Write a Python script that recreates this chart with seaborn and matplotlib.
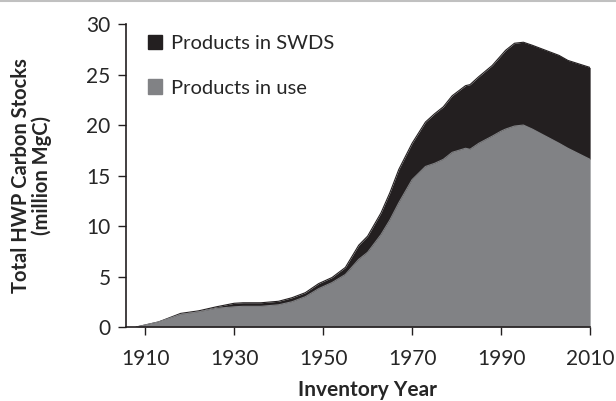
import matplotlib
matplotlib.use("Agg")
import matplotlib.pyplot as plt
import seaborn as sns
import numpy as np
import pandas as pd
from matplotlib.patches import Patch
from matplotlib.lines import Line2D

years = [1908, 1913, 1918, 1922, 1926, 1930, 1932, 1936, 1940, 1943, 1946, 1949, 1952,
         1955, 1958, 1960, 1963, 1965, 1967, 1970, 1973, 1975, 1977, 1979, 1982, 1983,
         1985, 1988, 1990, 1991, 1993, 1995, 1997, 2000, 2003, 2005, 2010]
in_use = [0, 0.5, 1.25, 1.5, 1.85, 2.0, 2.05, 2.05, 2.2, 2.5, 3.0, 3.8, 4.4,
          5.2, 6.7, 7.4, 9.15, 10.6, 12.3, 14.6, 15.9, 16.2, 16.6, 17.3, 17.7, 17.6,
          18.2, 18.9, 19.4, 19.6, 19.9, 20.0, 19.6, 18.9, 18.2, 17.7, 16.6]
swds = [0, 0, 0.1, 0.1, 0.15, 0.35, 0.35, 0.35, 0.35, 0.4, 0.4, 0.5, 0.5,
        0.7, 1.4, 1.6, 2.15, 2.7, 3.3, 3.6, 4.4, 4.9, 5.2, 5.6, 6.2, 6.4,
        6.6, 7.0, 7.5, 7.8, 8.2, 8.2, 8.3, 8.5, 8.7, 8.7, 9.1]
labels = ["Products in SWDS", "Products in use"]
xticks = [1910, 1930, 1950, 1970, 1990, 2010]
yticks = [0, 5, 10, 15, 20, 25, 30]

sns.set_style("ticks")
plt.rcParams['font.family'] = ['Lato', 'DejaVu Sans']

df = pd.DataFrame({"year": years, "in_use": in_use, "swds": swds})
df["total"] = df["in_use"] + df["swds"]

gray = "#818285"
black = "#231f20"

fig = plt.figure(figsize=(6.16, 4.01), dpi=100)
ax = fig.add_axes([0.2045, 0.1845, 0.7535, 0.7555])

ax.fill_between(df["year"], 0, df["in_use"], color=gray, lw=0)
ax.fill_between(df["year"], df["in_use"], df["total"], color=black, lw=0)
sns.lineplot(data=df, x="year", y="total", ax=ax, color=black, lw=0.8)
sns.lineplot(data=df, x="year", y="in_use", ax=ax, color=gray, lw=0.8)

ax.set_xlim(1905.7, 2010)
ax.set_ylim(0, 30)
ax.set_xticks(xticks)
ax.set_yticks(yticks)
ax.tick_params(axis='both', labelsize=15, length=6, width=1, color="#231f20")
ax.tick_params(axis='x', pad=10)
ax.tick_params(axis='y', pad=5)
for s in ["top", "right"]:
    ax.spines[s].set_visible(False)
for s in ["left", "bottom"]:
    ax.spines[s].set_color("#231f20")
    ax.spines[s].set_linewidth(1.2)

ax.set_xlabel("Inventory Year", fontsize=15, fontweight="bold")
ax.xaxis.set_label_coords((367 - 126) / 464, (327 - 380) / 303)
ax.set_ylabel("Total HWP Carbon Stocks\n(million MgC)", fontsize=14.5, fontweight="bold",
              linespacing=1.05)
ax.yaxis.set_label_coords((52 - 126) / 464, 0.5)

handles = [Patch(color=black), Patch(color=gray)]
ax.legend(handles, labels, loc="upper left", bbox_to_anchor=(0.017, 1.01), frameon=False,
          fontsize=14.5, handlelength=0.7, handleheight=0.7, handletextpad=0.45,
          labelspacing=1.35, borderaxespad=0.3)

fig.add_artist(Line2D([0, 1], [0.998, 0.998], color="#c0c0c0", lw=1.5, transform=fig.transFigure))

fig.savefig("out.png", dpi=100)
